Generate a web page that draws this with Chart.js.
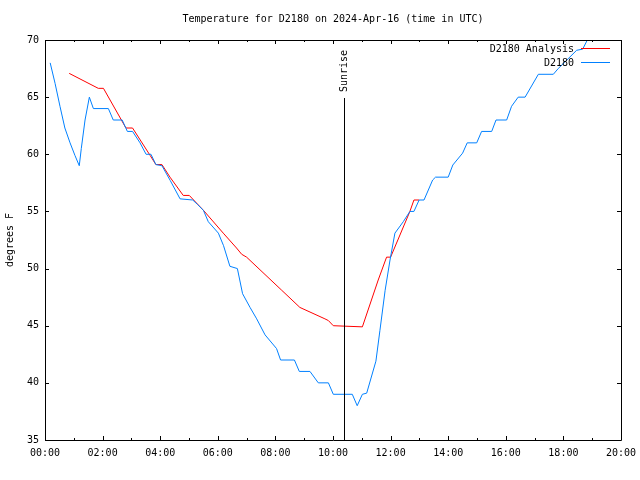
<!DOCTYPE html>
<html>
<head>
<meta charset="utf-8">
<script src="https://cdn.jsdelivr.net/npm/chart.js@4.4.1/dist/chart.umd.min.js"></script>
<style>
  html, body { margin: 0; padding: 0; background: #fff; }
  #wrap { width: 640px; height: 480px; }
</style>
</head>
<body>
<div id="wrap"><canvas id="chart" width="640" height="480"></canvas></div>
<script>
// hours after 00:00 UTC and temperatures in degrees F
const obsHours = [0.18, 0.35, 0.52, 0.69, 0.87, 1.04, 1.19, 1.26, 1.39, 1.54, 1.68, 2.2, 2.37, 2.68, 2.86, 3.04, 3.3, 3.51, 3.68, 3.85,
    4.06, 4.35, 4.69, 5.13, 5.3, 5.5, 5.67, 6.02, 6.2, 6.42, 6.68, 6.86, 7.12, 7.35, 7.64, 8.04, 8.18, 8.66, 8.83, 9.2,
    9.49, 9.84, 10.01, 10.67, 10.84, 11.02, 11.17, 11.49, 11.63, 11.81, 11.98, 12.15, 12.44, 12.67, 12.81, 12.99, 13.16, 13.46, 13.56, 14.0,
    14.16, 14.5, 14.66, 14.99, 15.16, 15.51, 15.66, 16.03, 16.2, 16.43, 16.67, 17.13, 17.65, 17.82, 18.46, 18.67, 18.83, 19.0];
const obsTemps = [68, 66.2, 64.2, 62.3, 61.0, 59.9, 59.0, 60.5, 63.0, 65.0, 64.0, 64.0, 63.0, 63.0, 62.0, 62.0, 61.0, 60.0, 60.0, 59.1,
    59.0, 57.7, 56.1, 56.0, 55.6, 55.1, 54.1, 53.1, 52.0, 50.2, 50.0, 47.8, 46.6, 45.6, 44.2, 43.0, 42.0, 42.0, 41.0, 41.0,
    40.0, 40.0, 39.0, 39.0, 38.0, 39.0, 39.1, 41.9, 44.6, 48.1, 50.75, 53.1, 54.1, 55.0, 55.0, 56.0, 56.0, 57.75, 58.0, 58.0,
    59.06, 60.1, 61.0, 61.0, 62.0, 62.0, 63.0, 63.0, 64.2, 65.0, 65.0, 67.0, 67.0, 67.5, 69.1, 69.2, 70.0, 71.0];

const anaHours = [0.84, 1.85, 2.03, 2.81, 3.04, 3.65, 3.85, 4.06, 4.34, 4.8, 5.01, 5.5, 6.19, 6.65, 6.83, 7.0, 8.22, 8.85, 9.72, 9.84,
    10.01, 11.02, 11.57, 11.86, 12.0, 12.67, 12.81, 12.99];
const anaTemps = [67.08, 65.77, 65.77, 62.3, 62.3, 59.9, 59.1, 59.1, 58.0, 56.4, 56.4, 55.1, 53.1, 51.8, 51.25, 51.0, 48.1, 46.6, 45.6, 45.45,
    45.0, 44.9, 49.0, 51.0, 51.0, 55.0, 56.0, 56.0];

const yTicks = [35, 40, 45, 50, 55, 60, 65, 70];
const sunriseHour = 10.38;

const titleText = 'Temperature for D2180 on 2024-Apr-16 (time in UTC)';
const FONT = "'DejaVu Sans Mono', monospace";

Chart.defaults.font.family = FONT;
Chart.defaults.font.size = 10;
Chart.defaults.color = '#000';

function pts(xs, ys) {
    return xs.map((x, i) => ({x: x, y: ys[i]}));
}

function hhmm(h) {
    return String(h).padStart(2, '0') + ':00';
}

// gnuplot-like frame, inward ticks, title, legend and sunrise marker
const gnuplotLook = {
    id: 'gnuplotLook',
    afterDatasetsDraw(chart) {
        const ctx = chart.ctx;
        const a = chart.chartArea;
        const xs = chart.scales.x;
        const ys = chart.scales.y;
        ctx.save();
        ctx.strokeStyle = '#000';
        ctx.lineWidth = 1;
        ctx.beginPath();
        ctx.rect(a.left + 0.5, a.top + 0.5, a.right - a.left, a.bottom - a.top);
        for (let h = 0; h <= 20; h++) {
            const x = Math.round(xs.getPixelForValue(h)) + 0.5;
            const len = h % 2 === 0 ? 4 : 2;
            ctx.moveTo(x, a.bottom); ctx.lineTo(x, a.bottom - len);
            ctx.moveTo(x, a.top); ctx.lineTo(x, a.top + len);
        }
        yTicks.forEach(v => {
            const y = Math.round(ys.getPixelForValue(v)) + 0.5;
            ctx.moveTo(a.left, y); ctx.lineTo(a.left + 4, y);
            ctx.moveTo(a.right, y); ctx.lineTo(a.right - 4, y);
        });
        // sunrise
        const sx = Math.round(xs.getPixelForValue(sunriseHour)) + 0.5;
        ctx.moveTo(sx, a.bottom); ctx.lineTo(sx, 98);
        ctx.stroke();

        ctx.fillStyle = '#000';
        ctx.font = '10px ' + FONT;
        ctx.textBaseline = 'middle';
        ctx.textAlign = 'center';
        ctx.fillText(titleText, (a.left + a.right) / 2, 19);

        ctx.save();
        ctx.translate(sx, 92);
        ctx.rotate(-Math.PI / 2);
        ctx.textAlign = 'left';
        ctx.fillText('Sunrise', 0, 0);
        ctx.restore();

        // legend
        const rows = [chart.data.datasets[0], chart.data.datasets[1]];
        rows.forEach((ds, i) => {
            const y = 49 + i * 14;
            ctx.textAlign = 'right';
            ctx.fillStyle = '#000';
            ctx.fillText(ds.label, 574, y);
            ctx.strokeStyle = ds.borderColor;
            ctx.beginPath();
            ctx.moveTo(581, y - 0.5);
            ctx.lineTo(610, y - 0.5);
            ctx.stroke();
        });
        ctx.restore();
    }
};

new Chart(document.getElementById('chart'), {
    type: 'scatter',
    data: {
        datasets: [
            {
                label: 'D2180 Analysis',
                data: pts(anaHours, anaTemps),
                showLine: true,
                borderColor: '#ff0000',
                borderWidth: 1,
                pointRadius: 0,
                tension: 0,
                order: 2
            },
            {
                label: 'D2180',
                data: pts(obsHours, obsTemps),
                showLine: true,
                borderColor: '#0080ff',
                borderWidth: 1,
                pointRadius: 0,
                tension: 0,
                order: 1
            }
        ]
    },
    options: {
        responsive: false,
        animation: false,
        layout: {padding: {top: 40, right: 19, left: 0, bottom: 0}},
        plugins: {
            legend: {display: false},
            title: {display: false},
            tooltip: {enabled: false}
        },
        scales: {
            x: {
                type: 'linear',
                min: 0,
                max: 20,
                afterFit: s => { s.height = 40; s.paddingLeft = 0; s.paddingRight = 0; },
                grid: {display: false, drawTicks: false},
                border: {display: false},
                ticks: {
                    stepSize: 1,
                    autoSkip: false,
                    maxRotation: 0,
                    padding: 7,
                    callback: v => (v % 2 === 0 ? hhmm(v) : '')
                }
            },
            y: {
                min: 35,
                max: 70,
                afterFit: s => { s.width = 45; s.paddingTop = 0; s.paddingBottom = 0; },
                grid: {display: false, drawTicks: false},
                border: {display: false},
                title: {display: true, text: 'degrees F', padding: {top: 4, bottom: 0}},
                ticks: {stepSize: 5, padding: 6}
            }
        }
    },
    plugins: [gnuplotLook]
});
</script>
</body>
</html>
